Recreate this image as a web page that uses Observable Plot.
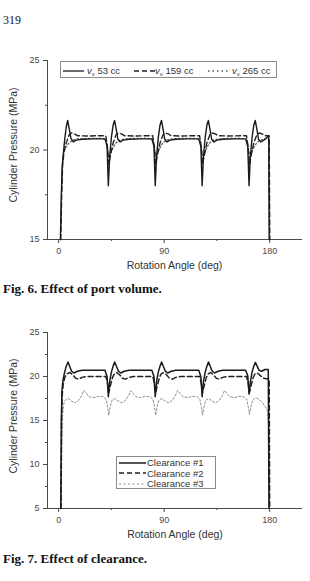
<!DOCTYPE html>
<html>
<head>
<meta charset="utf-8">
<script src="https://cdn.jsdelivr.net/npm/d3@7"></script>
<script src="https://cdn.jsdelivr.net/npm/@observablehq/plot@0.6"></script>
<style>
  html, body { margin: 0; padding: 0; background: #fff; }
  #page { position: relative; width: 310px; height: 581px; overflow: hidden; background: #fff; }
  .abs { position: absolute; white-space: nowrap; line-height: 1; }
  .serif { font-family: "Liberation Serif", "Times New Roman", serif; color: #111; }
  .sans { font-family: "Liberation Sans", Arial, sans-serif; color: #333; }
  .plotbox { position: absolute; left: 0; }
  .legend { position: absolute; background: #fff; border: 1px solid #8a8a8a; box-sizing: border-box; }
  .legend .item { position: absolute; font-family: "Liberation Sans", Arial, sans-serif; font-size: 9.5px; color: #333; line-height: 1; white-space: nowrap; }
  .legend svg { position: absolute; overflow: visible; }
  sub { font-size: 6px; vertical-align: -2px; }
</style>
</head>
<body>
<div id="page">
  <div class="abs serif" style="left:3px; top:14px; font-size:12px;">319</div>

  <div id="plot1" class="plotbox" style="top:50px;"></div>
  <div class="abs sans" style="left:13px; top:145px; font-size:10.5px; transform: translate(-50%,-50%) rotate(-90deg);">Cylinder Pressure (MPa)</div>
  <div class="abs sans" style="left:174.5px; top:265px; font-size:10.5px; transform: translate(-50%,-50%);">Rotation Angle (deg)</div>
  <div class="abs serif" style="left:3px; top:282px; font-size:13px; font-weight:bold;">Fig. 6. Effect of port volume.</div>

  <div id="plot2" class="plotbox" style="top:322px;"></div>
  <div class="abs sans" style="left:13px; top:416px; font-size:10.5px; transform: translate(-50%,-50%) rotate(-90deg);">Cylinder Pressure (MPa)</div>
  <div class="abs sans" style="left:175px; top:534px; font-size:10.5px; transform: translate(-50%,-50%);">Rotation Angle (deg)</div>
  <div class="abs serif" style="left:3px; top:552px; font-size:13px; font-weight:bold;">Fig. 7. Effect of clearance.</div>

  <div id="legend1" class="legend" style="left:60px; top:61px; width:217px; height:17px;"></div>
  <div id="legend2" class="legend" style="left:116px; top:456px; width:100px; height:33px;"></div>
</div>
<script>
// ---------------- Data: Fig. 6 (port volume) ----------------
const fig6XTicks = [0, 90, 180];
const fig6XMinor = [45, 135];
const fig6YTicks = [15, 20, 25];
const fig6YMinor = [17.5, 22.5];

const v53Angle = [1.5, 2.3, 3.0, 4.0, 5.2, 6.5, 7.7, 9.0, 10.5, 12.5, 15, 20, 30, 39.5, 41.3, 42.4, 43.5, 45.0, 46.5, 47.7, 49.0, 50.5, 52.5, 55, 60, 70, 79.5, 81.3, 82.4, 83.5, 85.0, 86.5, 87.7, 89.0, 90.5, 92.5, 95, 100, 110, 119.5, 121.3, 122.4, 123.5, 125.0, 126.5, 127.7, 129.0, 130.5, 132.5, 135, 140, 150, 159.5, 161.3, 162.4, 163.5, 165.0, 166.5, 167.7, 169.0, 170.5, 172.5, 175, 178.5, 179.2, 179.6];
const v53P     = [15, 17.5, 19.0, 19.8, 20.6, 21.3, 21.65, 21.2, 20.65, 20.45, 20.55, 20.6, 20.62, 20.62, 20.2, 18.0, 19.6, 20.7, 21.4, 21.65, 21.2, 20.6, 20.45, 20.55, 20.6, 20.62, 20.62, 20.2, 18.0, 19.6, 20.7, 21.4, 21.65, 21.2, 20.6, 20.45, 20.55, 20.6, 20.62, 20.62, 20.2, 18.0, 19.6, 20.7, 21.4, 21.65, 21.2, 20.6, 20.45, 20.55, 20.6, 20.62, 20.62, 20.2, 18.0, 19.6, 20.7, 21.4, 21.65, 21.2, 20.6, 20.45, 20.55, 20.75, 20.7, 15];

const v159Angle = [1.8, 2.6, 3.4, 4.6, 6.5, 9.0, 11.0, 13.5, 16, 25, 35, 40.2, 41.6, 42.8, 44.2, 46.5, 49.0, 51.0, 53.5, 56, 65, 75, 80.2, 81.6, 82.8, 84.2, 86.5, 89.0, 91.0, 93.5, 96, 105, 115, 120.2, 121.6, 122.8, 124.2, 126.5, 129.0, 131.0, 133.5, 136, 145, 155, 160.2, 161.6, 162.8, 164.2, 166.5, 169.0, 171.0, 173.5, 176, 179.6, 180.1];
const v159P     = [15, 17.5, 19.2, 19.9, 20.4, 20.85, 20.95, 20.9, 20.8, 20.78, 20.8, 20.8, 20.2, 19.2, 19.7, 20.4, 20.85, 20.95, 20.9, 20.8, 20.78, 20.8, 20.8, 20.2, 19.2, 19.7, 20.4, 20.85, 20.95, 20.9, 20.8, 20.78, 20.8, 20.8, 20.2, 19.2, 19.7, 20.4, 20.85, 20.95, 20.9, 20.8, 20.78, 20.8, 20.8, 20.2, 19.2, 19.7, 20.4, 20.85, 20.95, 20.9, 20.8, 20.8, 15];

const v265Angle = [1.6, 2.4, 3.2, 4.5, 6.5, 9, 12, 16, 25, 35, 40.5, 42.0, 43.2, 44.8, 47, 49, 52, 56, 65, 75, 80.5, 82.0, 83.2, 84.8, 87, 89, 92, 96, 105, 115, 120.5, 122.0, 123.2, 124.8, 127, 129, 132, 136, 145, 155, 160.5, 162.0, 163.2, 164.8, 167, 169, 172, 176, 179.2, 179.8];
const v265P     = [15, 17.5, 19.3, 19.9, 20.2, 20.4, 20.55, 20.62, 20.65, 20.65, 20.6, 20.0, 19.6, 19.9, 20.2, 20.4, 20.55, 20.62, 20.65, 20.65, 20.6, 20.0, 19.6, 19.9, 20.2, 20.4, 20.55, 20.62, 20.65, 20.65, 20.6, 20.0, 19.6, 19.9, 20.2, 20.4, 20.55, 20.62, 20.65, 20.65, 20.6, 20.0, 19.6, 19.9, 20.2, 20.4, 20.55, 20.62, 20.6, 15];

// ---------------- Data: Fig. 7 (clearance) ----------------
const fig7XTicks = [0, 90, 180];
const fig7XMinor = [45, 135];
const fig7YTicks = [5, 10, 15, 20, 25];
const fig7YMinor = [7.5, 12.5, 17.5, 22.5];

const c1Angle = [1.8, 2.3, 2.8, 3.6, 4.8, 6.3, 8.0, 9.3, 11, 13, 16, 20, 30, 39.5, 41.3, 42.4, 43.5, 45.0, 46.5, 47.8, 49.2, 51, 53, 56, 60, 70, 79.5, 81.3, 82.4, 83.5, 85.0, 86.5, 87.8, 89.2, 91, 93, 96, 100, 110, 119.5, 121.3, 122.4, 123.5, 125.0, 126.5, 127.8, 129.2, 131, 133, 136, 140, 150, 159.5, 161.3, 162.4, 163.5, 165.0, 166.5, 167.8, 169.2, 171, 173, 176, 178.8, 179.4];
const c1P     = [5, 15, 18.3, 19.5, 20.3, 21.1, 21.65, 21.2, 20.6, 20.4, 20.6, 20.7, 20.7, 20.7, 20.0, 17.7, 19.4, 20.5, 21.2, 21.65, 21.2, 20.6, 20.4, 20.6, 20.7, 20.7, 20.7, 20.0, 17.7, 19.4, 20.5, 21.2, 21.65, 21.2, 20.6, 20.4, 20.6, 20.7, 20.7, 20.7, 20.0, 17.7, 19.4, 20.5, 21.2, 21.65, 21.2, 20.6, 20.4, 20.6, 20.7, 20.7, 20.7, 20.1, 18.0, 19.4, 20.5, 21.2, 21.6, 21.2, 20.7, 20.6, 20.8, 20.8, 5];

const c2Angle = [2.0, 2.5, 3.0, 3.8, 5.2, 7.0, 9.5, 12, 14.5, 17, 20, 24, 30, 40.3, 41.6, 42.8, 44.2, 46, 47.5, 49.5, 52, 54.5, 57, 60, 64, 70, 80.3, 81.6, 82.8, 84.2, 86, 87.5, 89.5, 92, 94.5, 97, 100, 104, 110, 120.3, 121.6, 122.8, 124.2, 126, 127.5, 129.5, 132, 134.5, 137, 140, 144, 150, 160.3, 161.6, 162.8, 164.2, 166, 167.5, 169.5, 172, 174.5, 177, 179.6, 180.0];
const c2P     = [5, 15, 17.8, 19.0, 19.9, 20.3, 20.45, 20.2, 19.8, 19.7, 19.9, 20.0, 20.0, 20.0, 19.3, 18.2, 19.0, 19.9, 20.3, 20.45, 20.2, 19.8, 19.7, 19.9, 20.0, 20.0, 20.0, 19.3, 18.2, 19.0, 19.9, 20.3, 20.45, 20.2, 19.8, 19.7, 19.9, 20.0, 20.0, 20.0, 19.3, 18.2, 19.0, 19.9, 20.3, 20.45, 20.2, 19.8, 19.7, 19.9, 20.0, 20.0, 20.0, 19.3, 18.2, 19.0, 19.9, 20.3, 20.4, 20.1, 19.8, 19.75, 19.75, 5];

const c3Angle = [2.2, 2.7, 3.3, 4.2, 5.5, 8, 11, 14, 17, 19.5, 21.5, 23.5, 26, 30, 34, 38, 40.5, 41.8, 42.8, 43.8, 45.5, 48, 51, 54, 57, 59.5, 61.5, 63.5, 66, 70, 74, 78, 80.5, 81.8, 82.8, 83.8, 85.5, 88, 91, 94, 97, 99.5, 101.5, 103.5, 106, 110, 114, 118, 120.5, 121.8, 122.8, 123.8, 125.5, 128, 131, 134, 137, 139.5, 141.5, 143.5, 146, 150, 154, 158, 160.5, 161.8, 162.8, 163.8, 165.5, 168, 171, 174, 176.5, 178.2, 179.0, 179.5];
const c3P     = [5, 12, 15.5, 16.8, 17.3, 17.5, 17.2, 17.0, 17.3, 17.8, 18.4, 18.1, 17.7, 17.6, 17.75, 17.7, 17.4, 16.5, 15.6, 16.5, 17.3, 17.5, 17.2, 17.0, 17.3, 17.8, 18.4, 18.1, 17.7, 17.6, 17.75, 17.7, 17.4, 16.5, 15.6, 16.5, 17.3, 17.5, 17.2, 17.0, 17.3, 17.8, 18.4, 18.1, 17.7, 17.6, 17.75, 17.7, 17.4, 16.5, 15.6, 16.5, 17.3, 17.5, 17.2, 17.0, 17.3, 17.8, 18.4, 18.1, 17.7, 17.6, 17.75, 17.7, 17.4, 16.5, 15.7, 16.5, 17.3, 17.6, 17.4, 17.0, 16.5, 16.0, 14.5, 5];

// ---------------- Helpers ----------------
const pts = (a, p) => a.map((x, i) => ({angle: x, p: p[i]}));
const axisColor = "#4a4a4a";

function makeChart({xTicks, xMinor, yTicks, yMinor, yDomain, height, marginBottom, series}) {
  const xDomain = [-9.5, 208];
  return Plot.plot({
    width: 310,
    height,
    marginTop: 10,
    marginBottom,
    marginLeft: 47,
    marginRight: 8,
    x: {domain: xDomain},
    y: {domain: yDomain},
    style: {fontFamily: "'Liberation Sans', Arial, sans-serif", fontSize: "9px", color: "#333", background: "transparent", overflow: "visible"},
    marks: [
      Plot.axisX({ticks: xTicks, tickSize: 4, tickPadding: 4, label: null, color: axisColor}),
      Plot.axisX({ticks: xMinor, tickSize: 2, tickFormat: () => "", label: null, color: axisColor}),
      Plot.axisY({ticks: yTicks, tickSize: 4, tickPadding: 4, label: null, color: axisColor}),
      Plot.axisY({ticks: yMinor, tickSize: 2, tickFormat: () => "", label: null, color: axisColor}),
      Plot.ruleY([yDomain[0]], {stroke: axisColor, strokeWidth: 1}),
      Plot.ruleX([xDomain[0]], {stroke: axisColor, strokeWidth: 1}),
      ...series.map(s => Plot.line(pts(s.a, s.p), {
        x: "angle", y: "p", stroke: s.stroke, strokeWidth: s.width,
        strokeDasharray: s.dash, curve: "linear", strokeLinejoin: "round"
      }))
    ]
  });
}

const fig6Series = [
  {a: v265Angle, p: v265P, stroke: "#555", width: 1.2, dash: "1.5,2.2"},
  {a: v159Angle, p: v159P, stroke: "#222", width: 1.4, dash: "5,3"},
  {a: v53Angle,  p: v53P,  stroke: "#1a1a1a", width: 1.4, dash: null}
];
const fig7Series = [
  {a: c3Angle, p: c3P, stroke: "#8c8c8c", width: 1, dash: "2,2"},
  {a: c2Angle, p: c2P, stroke: "#222", width: 1.5, dash: "5,3"},
  {a: c1Angle, p: c1P, stroke: "#1a1a1a", width: 1.5, dash: null}
];

document.getElementById("plot1").appendChild(makeChart({
  xTicks: fig6XTicks, xMinor: fig6XMinor, yTicks: fig6YTicks, yMinor: fig6YMinor,
  yDomain: [15, 25], height: 225, marginBottom: 36, series: fig6Series
}));
document.getElementById("plot2").appendChild(makeChart({
  xTicks: fig7XTicks, xMinor: fig7XMinor, yTicks: fig7YTicks, yMinor: fig7YMinor,
  yDomain: [5, 25], height: 223, marginBottom: 37, series: fig7Series
}));

// ---------------- Legends ----------------
const legend1Items = [
  {label: "53 cc", x: 2, textX: 26, dash: null, stroke: "#1a1a1a"},
  {label: "159 cc", x: 73, textX: 94, dash: "5,3", stroke: "#222"},
  {label: "265 cc", x: 147, textX: 171, dash: "1.5,3", stroke: "#555"}
];
const legend2Items = [
  {label: "Clearance #1", dash: null, stroke: "#1a1a1a", w: 1.5},
  {label: "Clearance #2", dash: "5,3", stroke: "#222", w: 1.5},
  {label: "Clearance #3", dash: "2,2.5", stroke: "#8c8c8c", w: 1}
];

const lg1 = document.getElementById("legend1");
legend1Items.forEach(it => {
  const sv = document.createElementNS("http://www.w3.org/2000/svg", "svg");
  sv.setAttribute("width", 22); sv.setAttribute("height", 4);
  sv.style.left = it.x + "px"; sv.style.top = "6.5px";
  sv.innerHTML = `<line x1="0" y1="2" x2="21" y2="2" stroke="${it.stroke}" stroke-width="1.3" ${it.dash ? `stroke-dasharray="${it.dash}"` : ""}/>`;
  lg1.appendChild(sv);
  const t = document.createElement("div");
  t.className = "item";
  t.style.left = it.textX + "px"; t.style.top = "3.5px";
  t.innerHTML = `<i>v</i><sub>v</sub> ${it.label}`;
  lg1.appendChild(t);
});

const lg2 = document.getElementById("legend2");
legend2Items.forEach((it, i) => {
  const top = 5.5 + i * 10.5;
  const sv = document.createElementNS("http://www.w3.org/2000/svg", "svg");
  sv.setAttribute("width", 28); sv.setAttribute("height", 4);
  sv.style.left = "2px"; sv.style.top = (top - 2) + "px";
  sv.innerHTML = `<line x1="0" y1="2" x2="27" y2="2" stroke="${it.stroke}" stroke-width="${it.w}" ${it.dash ? `stroke-dasharray="${it.dash}"` : ""}/>`;
  lg2.appendChild(sv);
  const t = document.createElement("div");
  t.className = "item";
  t.style.left = "30px"; t.style.top = (top - 4.5) + "px";
  t.textContent = it.label;
  lg2.appendChild(t);
});
</script>
</body>
</html>
